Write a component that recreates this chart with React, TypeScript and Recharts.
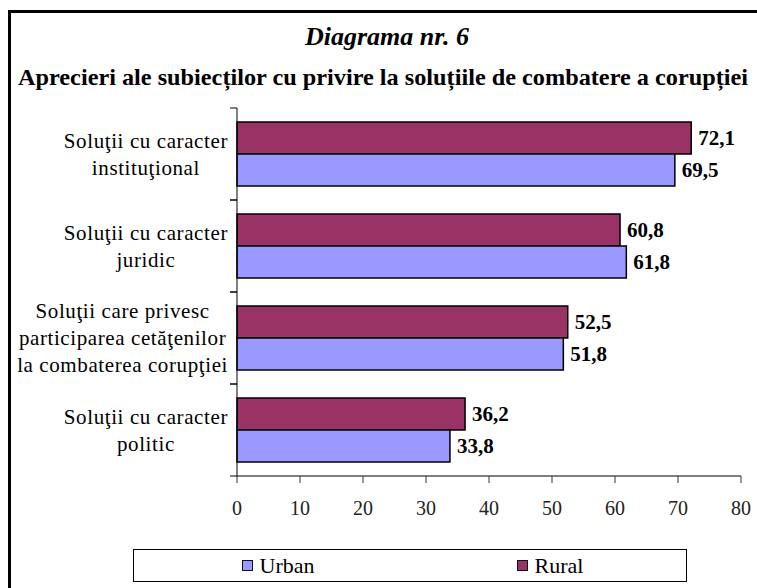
import React from "react";
import { BarChart, Bar, XAxis, YAxis, LabelList } from "recharts";

// Diagrama nr. 6
const categories = [
  "Soluţii cu caracter\ninstituţional",
  "Soluţii cu caracter\njuridic",
  "Soluţii care privesc\nparticiparea cetăţenilor\nla combaterea corupţiei",
  "Soluţii cu caracter\npolitic",
];
const urban = [69.5, 61.8, 51.8, 33.8];
const rural = [72.1, 60.8, 52.5, 36.2];
const xTicks = [0, 10, 20, 30, 40, 50, 60, 70, 80];

const seriesNames = { urban: "Urban", rural: "Rural" };
const seriesColors = { urban: "#9999FF", rural: "#993366" };
const legendOrder: ("urban" | "rural")[] = ["urban", "rural"];

const data = categories.map((name, i) => ({
  name,
  urban: urban[i],
  rural: rural[i],
}));

const SERIF = "'Liberation Serif', 'Times New Roman', serif";
const W = 757;
const H = 588;
const MARGIN = { top: 108, right: 16, bottom: 72, left: 0 };
const X_AXIS_H = 40;
const Y_AXIS_W = 237;
const BAND = (H - MARGIN.top - MARGIN.bottom - X_AXIS_H) / categories.length;

let measureCtx: CanvasRenderingContext2D | null = null;
function textWidth(text: string, font: string, spacing = 0) {
  if (!measureCtx) measureCtx = document.createElement("canvas").getContext("2d");
  if (!measureCtx) return text.length * 9;
  measureCtx.font = font;
  return measureCtx.measureText(text).width + spacing * text.length;
}

const fmt = (v: any) => String(v).replace(".", ",");

const CategoryTick = (props: any) => {
  const { x, y, payload } = props;
  const axisX = x + 7;
  const half = BAND / 2;
  const lines = String(payload.value).split("\n");
  const size = 21;
  const ls = 0.6;
  const w = Math.max(...lines.map((l) => textWidth(l, `${size}px ${SERIF}`, ls)));
  const cx = x - 2 - w / 2;
  const lh = 27;
  return (
    <g>
      <line x1={axisX - 7} x2={axisX} y1={y - half} y2={y - half} stroke="#000" />
      <line x1={axisX - 7} x2={axisX} y1={y + half} y2={y + half} stroke="#000" />
      <text textAnchor="middle" fontFamily={SERIF} fontSize={size} letterSpacing={ls} fill="#000">
        {lines.map((l, i) => (
          <tspan key={i} x={cx} y={y + (i - (lines.length - 1) / 2) * lh} dy="0.35em">
            {l}
          </tspan>
        ))}
      </text>
    </g>
  );
};

const labelProps = {
  position: "right" as const,
  offset: 7,
  formatter: fmt,
  fill: "#000",
  fontSize: 21,
  fontWeight: 700,
  fontFamily: SERIF,
};

export default function App() {
  return (
    <div style={{ position: "absolute", left: 0, top: 0, width: W, height: H, overflow: "hidden", background: "#fff" }}>
      {/* frame, cut off at the right and bottom like the reference */}
      <div
        style={{
          position: "absolute",
          left: 8,
          top: 10,
          width: W,
          height: H,
          borderLeft: "3px solid #000",
          borderTop: "3px solid #000",
        }}
      />
      <svg width={W} height={100} style={{ position: "absolute", left: 0, top: 0 }}>
        <text x={387} y={45} textAnchor="middle" fontFamily={SERIF} fontSize={26} fontWeight={700} fontStyle="italic" fill="#000">
          Diagrama nr. 6
        </text>
        <text
          x={383}
          y={85}
          textAnchor="middle"
          fontFamily={SERIF}
          fontSize={24}
          fontWeight={700}
          fill="#000"
          textLength={730}
          lengthAdjust="spacingAndGlyphs"
        >
          Aprecieri ale subiecților cu privire la soluțiile de combatere a corupției
        </text>
      </svg>
      <div style={{ position: "absolute", left: 0, top: 0 }}>
        <BarChart
          width={W}
          height={H}
          data={data}
          layout="vertical"
          margin={MARGIN}
          barCategoryGap={14}
          barGap={0}
        >
          <XAxis
            type="number"
            domain={[0, 80]}
            ticks={xTicks}
            interval={0}
            height={X_AXIS_H}
            tickSize={7}
            tickMargin={18}
            axisLine={{ stroke: "#000" }}
            tickLine={{ stroke: "#333" }}
            tick={{ fill: "#222", fontSize: 20, fontFamily: SERIF }}
          />
          <YAxis
            type="category"
            dataKey="name"
            width={Y_AXIS_W}
            interval={0}
            tickSize={7}
            tickMargin={0}
            tickLine={false}
            axisLine={{ stroke: "#000" }}
            tick={<CategoryTick />}
          />
          <Bar dataKey="rural" name={seriesNames.rural} fill={seriesColors.rural} stroke="#000" strokeWidth={1.5} isAnimationActive={false}>
            <LabelList dataKey="rural" {...labelProps} />
          </Bar>
          <Bar dataKey="urban" name={seriesNames.urban} fill={seriesColors.urban} stroke="#000" strokeWidth={1.5} isAnimationActive={false}>
            <LabelList dataKey="urban" {...labelProps} />
          </Bar>
        </BarChart>
      </div>
      {/* legend box */}
      <div
        style={{
          position: "absolute",
          left: 133,
          top: 549,
          width: 554,
          height: 33,
          boxSizing: "border-box",
          border: "1px solid #000",
          paddingLeft: 8,
          display: "flex",
          alignItems: "center",
          fontFamily: SERIF,
          fontSize: 22,
          color: "#000",
        }}
      >
        {legendOrder.map((k) => (
          <div key={k} style={{ width: 277, display: "flex", justifyContent: "center", alignItems: "center" }}>
            <span
              style={{
                display: "inline-block",
                width: 11,
                height: 11,
                boxSizing: "border-box",
                background: seriesColors[k],
                border: "1.5px solid #111",
                marginRight: 7,
              }}
            />
            <span style={{ lineHeight: "22px" }}>{seriesNames[k]}</span>
          </div>
        ))}
      </div>
    </div>
  );
}
